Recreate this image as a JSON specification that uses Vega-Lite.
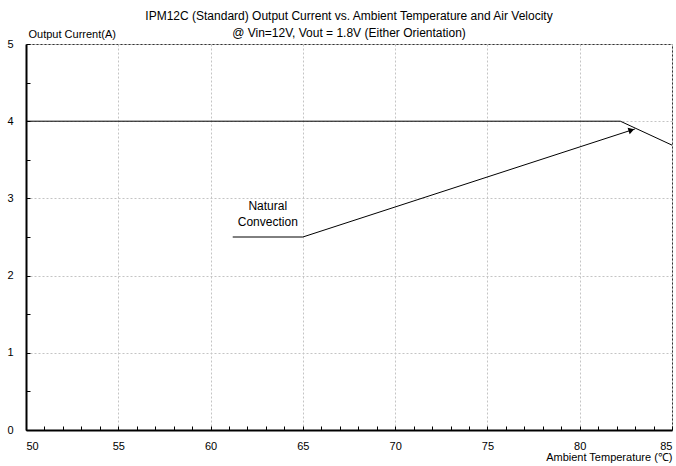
{
  "$schema": "https://vega.github.io/schema/vega-lite/v6.json",
  "width": 646,
  "height": 386,
  "autosize": {"type": "none"},
  "padding": {"left": 26, "top": 44, "right": 4, "bottom": 36},
  "background": "white",
  "config": {
    "font": "Liberation Sans",
    "view": {"stroke": "#333333", "strokeWidth": 1},
    "axis": {"labelFont": "Liberation Sans", "titleFont": "Liberation Sans", "labelColor": "black", "titleColor": "black"}
  },
  "title": {
    "text": ["IPM12C (Standard) Output Current vs. Ambient Temperature and Air Velocity", "@ Vin=12V, Vout = 1.8V (Either Orientation)"],
    "font": "Liberation Sans",
    "fontSize": 12,
    "fontWeight": "normal",
    "color": "black",
    "anchor": "middle",
    "lineHeight": 17,
    "offset": 4,
    "dy": 16
  },
  "datasets": {
    "curve": [{"t": 50, "i": 4}, {"t": 82.2, "i": 4}, {"t": 85, "i": 3.69}],
    "leader": [{"t": 61.2, "i": 2.5}, {"t": 65, "i": 2.5}, {"t": 83, "i": 3.9}],
    "head": [{"t": 82.8, "i": 3.885}],
    "label": [{"t": 63.1, "i": 2.9, "text": "Natural\nConvection"}]
  },
  "resolve": {"axis": {"x": "independent", "y": "independent"}},
  "layer": [
    {
      "data": {"name": "curve"},
      "mark": {"type": "line", "color": "black", "strokeWidth": 1},
      "encoding": {
        "x": {"field": "t", "type": "quantitative", "scale": {"domain": [50, 85], "nice": false, "zero": false},
          "axis": {"orient": "bottom", "values": [50, 55, 60, 65, 70, 75, 80, 85], "grid": true, "gridColor": "#c4c4c4", "gridDash": [2, 2], "gridWidth": 1,
            "ticks": false, "labelPadding": 10, "labelFontSize": 11, "domainColor": "black", "domainWidth": 2,
            "title": "Ambient Temperature (℃)", "titleFontSize": 11, "titleFontWeight": "normal", "titleAnchor": "end", "titleAlign": "right", "titleX": 646, "titleY": 27, "titleBaseline": "middle"}},
        "y": {"field": "i", "type": "quantitative", "scale": {"domain": [0, 5], "nice": false},
          "axis": {"orient": "left", "values": [0, 1, 2, 3, 4, 5], "grid": true, "gridColor": "#c4c4c4", "gridDash": [2, 2], "gridWidth": 1,
            "ticks": false, "labelPadding": 13, "labelFontSize": 11, "domainColor": "black", "domainWidth": 2,
            "title": "Output Current(A)", "titleFontSize": 11, "titleFontWeight": "normal", "titleAngle": 0, "titleAlign": "left", "titleX": 2, "titleY": -10, "titleBaseline": "middle"}}
      }
    },
    {
      "data": {"name": "leader"},
      "mark": {"type": "line", "color": "black", "strokeWidth": 1},
      "encoding": {
        "x": {"field": "t", "type": "quantitative",
          "axis": {"orient": "bottom", "values": [50,51,52,53,54,55,56,57,58,59,60,61,62,63,64,65,66,67,68,69,70,71,72,73,74,75,76,77,78,79,80,81,82,83,84,85], "grid": false, "labels": false, "domain": false, "ticks": true, "tickSize": -4, "tickColor": "black", "title": null}},
        "y": {"field": "i", "type": "quantitative",
          "axis": {"orient": "left", "values": [0, 0.5, 1, 1.5, 2, 2.5, 3, 3.5, 4, 4.5, 5], "grid": false, "labels": false, "domain": false, "ticks": true, "tickSize": -4, "tickColor": "black", "title": null}}
      }
    },
    {
      "data": {"name": "head"},
      "mark": {"type": "point", "shape": "triangle-right", "filled": true, "color": "black", "size": 45, "angle": 342, "opacity": 1},
      "encoding": {
        "x": {"field": "t", "type": "quantitative", "axis": null},
        "y": {"field": "i", "type": "quantitative", "axis": null}
      }
    },
    {
      "data": {"name": "label"},
      "mark": {"type": "text", "font": "Liberation Sans", "fontSize": 12, "color": "black", "lineBreak": "\n", "lineHeight": 16, "align": "center", "baseline": "middle"},
      "encoding": {
        "x": {"field": "t", "type": "quantitative", "axis": null},
        "y": {"field": "i", "type": "quantitative", "axis": null},
        "text": {"field": "text"}
      }
    }
  ]
}
